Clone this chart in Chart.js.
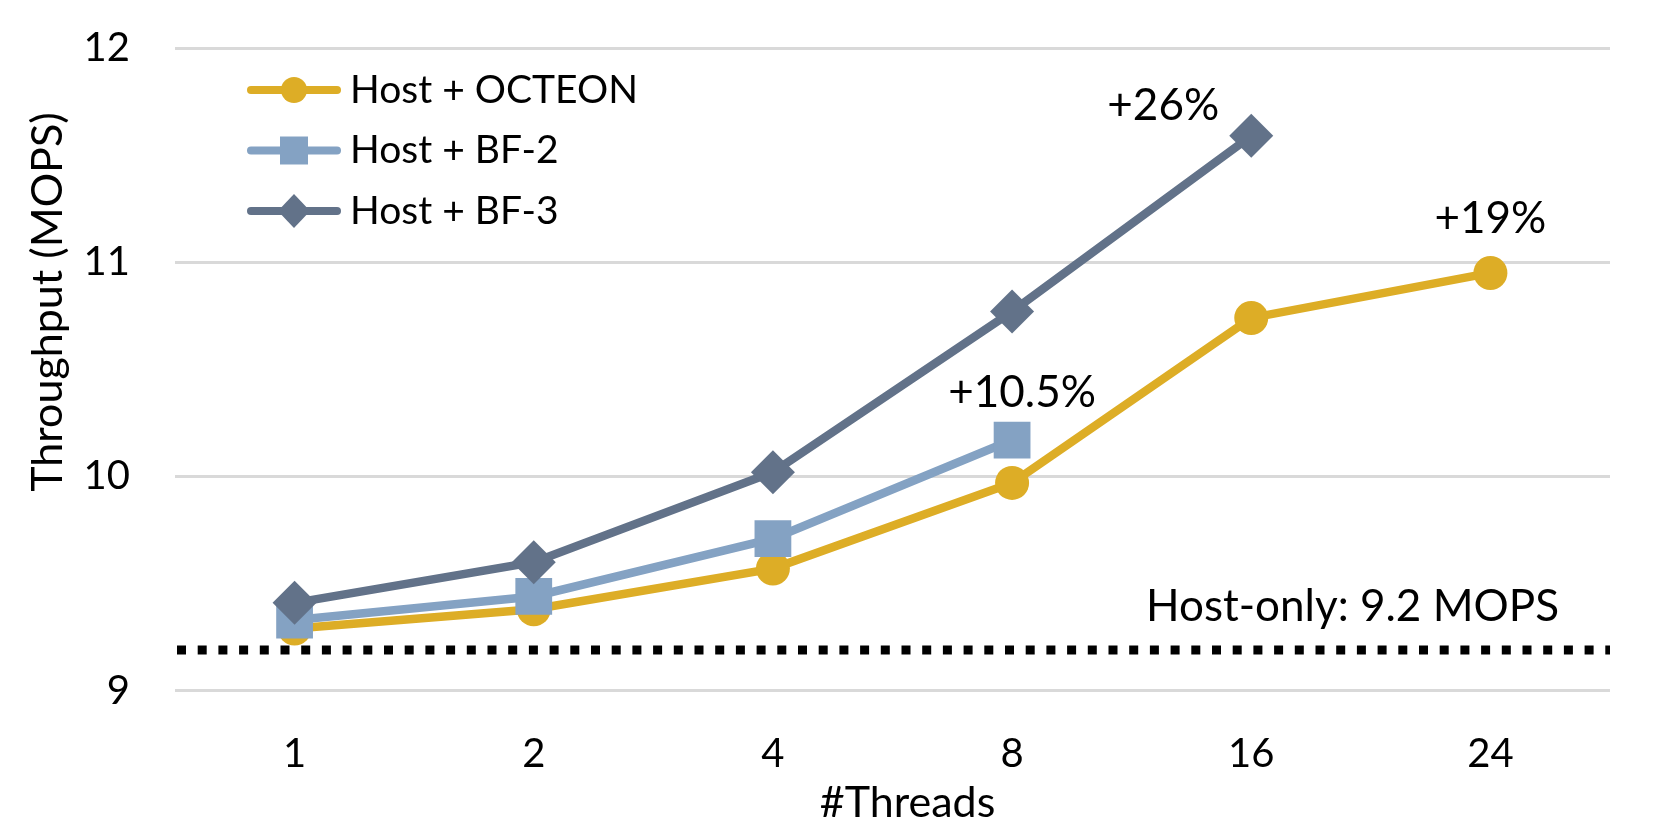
<!DOCTYPE html>
<html>
<head>
<meta charset="utf-8">
<title>Throughput vs threads</title>
<script src="https://cdn.jsdelivr.net/npm/chart.js@4.4.1/dist/chart.umd.min.js"></script>
<style>
  html, body { margin: 0; padding: 0; background: #fff; }
  canvas { display: block; }
</style>
</head>
<body>
<canvas id="myChart" width="1661" height="840"></canvas>
<script>
// data
const threads = ['1', '2', '4', '8', '16', '24'];
const seriesNames = ['Host + OCTEON', 'Host + BF-2', 'Host + BF-3'];
const octeon = [9.29, 9.38, 9.57, 9.97, 10.74, 10.95];
const bf2 = [9.33, 9.44, 9.71, 10.17, null, null];
const bf3 = [9.41, 9.60, 10.02, 10.77, 11.59, null];
const yTicks = [9, 10, 11, 12];
const hostOnly = 9.19;
const hostOnlyLabel = 'Host-only: 9.2 MOPS';
const xTitle = '#Threads';
const yTitle = 'Throughput (MOPS)';
// callouts: [series, category, text]
const callouts = [[2, 4, '+26%'], [0, 5, '+19%'], [1, 3, '+10.5%']];

const FONT = 'Lato, "Open Sans", sans-serif';
const colors = ['#DDAD26', '#84A2C3', '#627289'];
const markers = ['circle', 'rect', 'rectRot'];
const markerRadius = [17, 26, 22];   // chart.js radius units
const calloutOffsets = [[-88, -30], [0, -54], [10, -47]];

function drawMarker(ctx, style, x, y, r, color) {
    ctx.fillStyle = color;
    ctx.beginPath();
    if (style === 'circle') {
        ctx.arc(x, y, r, 0, Math.PI * 2);
    } else if (style === 'rect') {
        ctx.rect(x - r, y - r, 2 * r, 2 * r);
    } else {
        ctx.moveTo(x, y - r);
        ctx.lineTo(x + r * 0.95, y);
        ctx.lineTo(x, y + r);
        ctx.lineTo(x - r * 0.95, y);
        ctx.closePath();
    }
    ctx.fill();
}

// dotted host-only baseline, drawn under the series
const baselinePlugin = {
    id: 'baseline',
    beforeDatasetsDraw(chart) {
        const {ctx, chartArea, scales: {y}} = chart;
        const py = y.getPixelForValue(hostOnly);
        ctx.save();
        ctx.strokeStyle = '#000';
        ctx.lineWidth = 9;
        ctx.setLineDash([9, 11.7]);
        ctx.beginPath();
        ctx.moveTo(chartArea.left + 2, py);
        ctx.lineTo(chartArea.right, py);
        ctx.stroke();
        ctx.restore();
    }
};

// legend, axis titles, callouts and host-only text
const textPlugin = {
    id: 'texts',
    afterDraw(chart) {
        const {ctx, chartArea, scales: {x, y}} = chart;
        ctx.save();
        ctx.fillStyle = '#000';
        ctx.textBaseline = 'middle';

        // legend
        ctx.font = '39px ' + FONT;
        seriesNames.forEach((name, i) => {
            const ly = 90 + i * 60.5;
            ctx.strokeStyle = colors[i];
            ctx.lineWidth = 8;
            ctx.lineCap = 'round';
            ctx.beginPath();
            ctx.moveTo(251, ly);
            ctx.lineTo(337, ly);
            ctx.stroke();
            const r = [13, 14, 17][i];
            drawMarker(ctx, markers[i], 294, ly, r, colors[i]);
            ctx.fillStyle = '#000';
            ctx.textAlign = 'left';
            ctx.fillText(name, 350, ly);
        });

        // axis titles
        ctx.font = '43px ' + FONT;
        ctx.textAlign = 'center';
        ctx.fillText(xTitle, (chartArea.left + chartArea.right) / 2 + 15, 803);
        ctx.save();
        ctx.translate(48, 302);
        ctx.rotate(-Math.PI / 2);
        ctx.fillText(yTitle, 0, 0);
        ctx.restore();

        // callouts
        ctx.font = '44px ' + FONT;
        const sets = [octeon, bf2, bf3];
        ctx.textAlign = 'center';
        callouts.forEach(([s, c, text], i) => {
            const px = x.getPixelForValue(c) + calloutOffsets[i][0];
            const py = y.getPixelForValue(sets[s][c]) + calloutOffsets[i][1];
            ctx.fillText(text, px, py);
        });

        // host-only label
        ctx.textAlign = 'right';
        ctx.fillText(hostOnlyLabel, 1559, y.getPixelForValue(hostOnly) - 43);
        ctx.restore();
    }
};

const ctx = document.getElementById('myChart').getContext('2d');

function lineSet(label, data, i) {
    return {
        label: label,
        data: data,
        borderColor: colors[i],
        backgroundColor: colors[i],
        borderWidth: 8.5,
        pointStyle: markers[i],
        pointRadius: markerRadius[i],
        pointHoverRadius: markerRadius[i],
        pointBorderWidth: 0,
        pointBackgroundColor: colors[i],
        spanGaps: false,
        order: 3 - i,
        tension: 0
    };
}

const myChart = new Chart(ctx, {
    type: 'line',
    data: {
        labels: threads,
        datasets: [
            lineSet(seriesNames[0], octeon, 0),
            lineSet(seriesNames[1], bf2, 1),
            lineSet(seriesNames[2], bf3, 2)
        ]
    },
    options: {
        responsive: false,
        animation: false,
        layout: { autoPadding: false, padding: { top: 48, right: 51, left: 0, bottom: 0 } },
        plugins: {
            legend: { display: false },
            tooltip: { enabled: false }
        },
        scales: {
            x: {
                offset: true,
                grid: { display: false },
                border: { display: false },
                ticks: { color: '#000', padding: 31, font: { family: FONT, size: 40 } },
                afterFit(scale) { scale.height = 149.3; }
            },
            y: {
                min: 9,
                max: 12,
                afterBuildTicks(scale) { scale.ticks = yTicks.map(v => ({ value: v })); },
                grid: { color: '#D9D9D9', lineWidth: 3, drawTicks: false },
                border: { display: false },
                ticks: { color: '#000', padding: 45, font: { family: FONT, size: 40 } },
                afterFit(scale) {
                    scale.width = 175;
                    scale.paddingTop = 0;
                    scale.paddingBottom = 0;
                }
            }
        }
    },
    plugins: [baselinePlugin, textPlugin]
});
</script>
</body>
</html>
